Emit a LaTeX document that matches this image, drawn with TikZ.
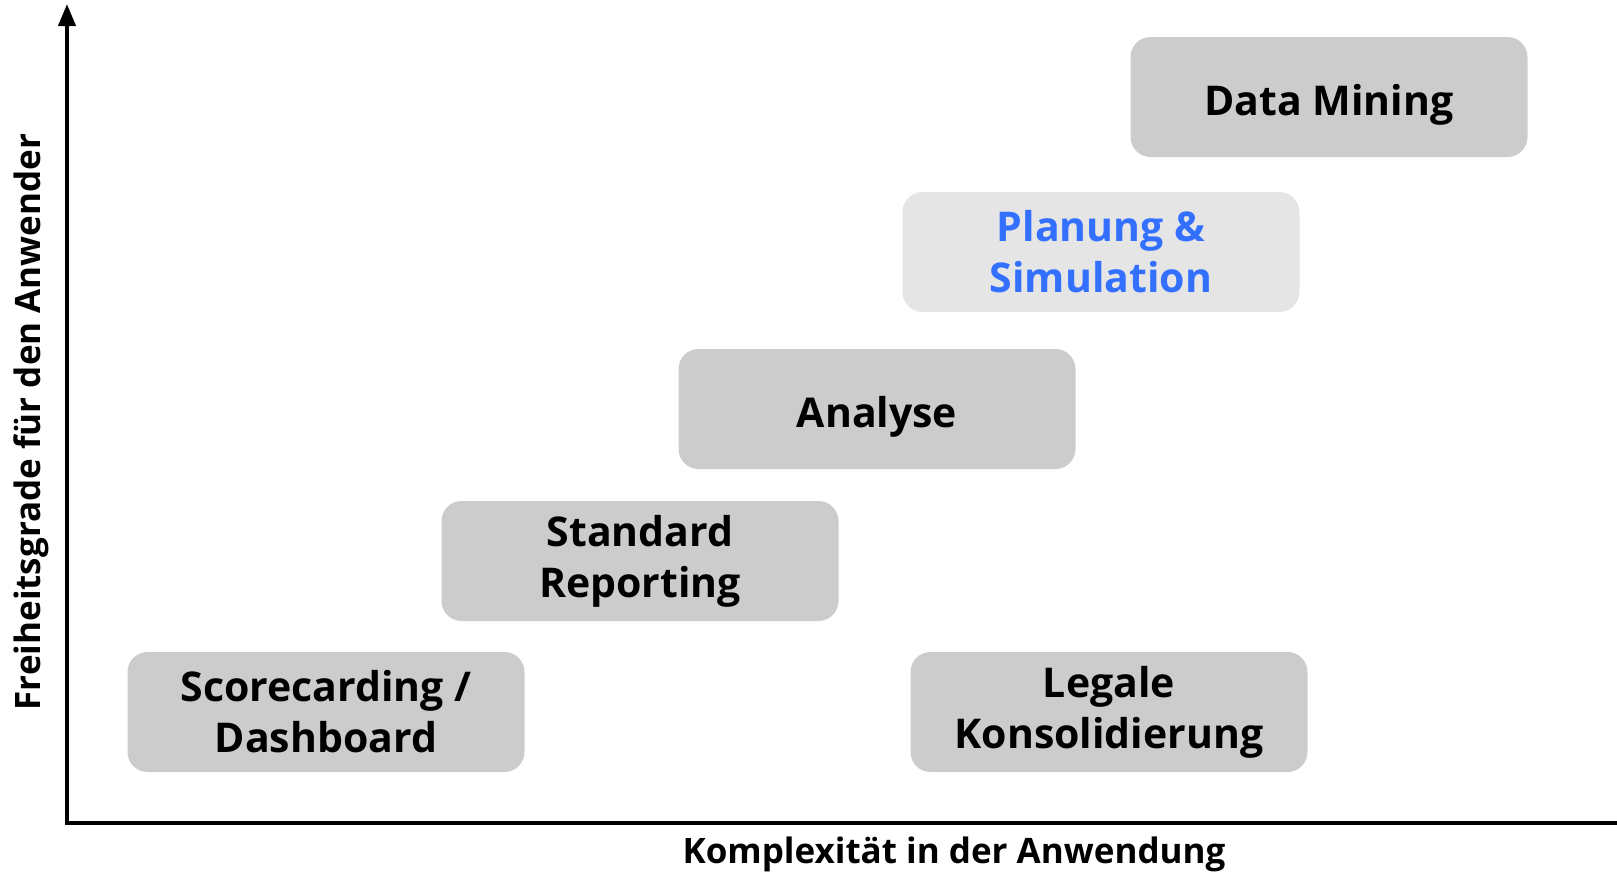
\documentclass[tikz,border=0pt]{standalone}
\usepackage{fontspec}
\setmainfont{Open Sans}
\usetikzlibrary{arrows.meta}
\definecolor{boxgray}{RGB}{204,204,204}
\definecolor{lightgray}{RGB}{229,229,229}
\definecolor{textblue}{RGB}{51,112,255}
\tikzset{
  stagebox/.style={rectangle, rounded corners=20pt, fill=boxgray, minimum width=397pt, minimum height=120pt, align=center, font=\fontsize{41}{51}\selectfont\bfseries, inner sep=0pt},
  oneline/.style={text height=36pt, text depth=0pt},
  axisline/.style={line width=4pt},
  axislabel/.style={font=\fontsize{35}{40}\selectfont\bfseries}
}
\begin{document}
\begin{tikzpicture}[x=1pt,y=-1pt]
\useasboundingbox (0,0) rectangle (1617,878);
\node[stagebox, oneline] (dm) at (1329,97) {Data Mining};
\node[stagebox, fill=lightgray, text=textblue] (ps) at (1101,252) {Planung \&\\Simulation};
\node[stagebox, oneline] (an) at (877,409) {Analyse};
\node[stagebox] (sr) at (640,561) {Standard\\Reporting};
\node[stagebox] (sc) at (326,712) {Scorecarding /\\Dashboard};
\node[stagebox] (lk) at (1109,712) {Legale\\Konsolidierung};
\coordinate (origin) at (67,823);
\coordinate (ytop) at (67,4);
\coordinate (xend) at (1620,823);
\draw[axisline, -{Triangle[length=22pt,width=17pt]}] (origin) -- (ytop);
\draw[axisline] ([xshift=-2pt]origin) -- (xend);
\node[axislabel] (xl) at (954,854) {Komplexität in der Anwendung};
\node[axislabel, rotate=90] (yl) at (31,422) {Freiheitsgrade für den Anwender};
\end{tikzpicture}
\end{document}
